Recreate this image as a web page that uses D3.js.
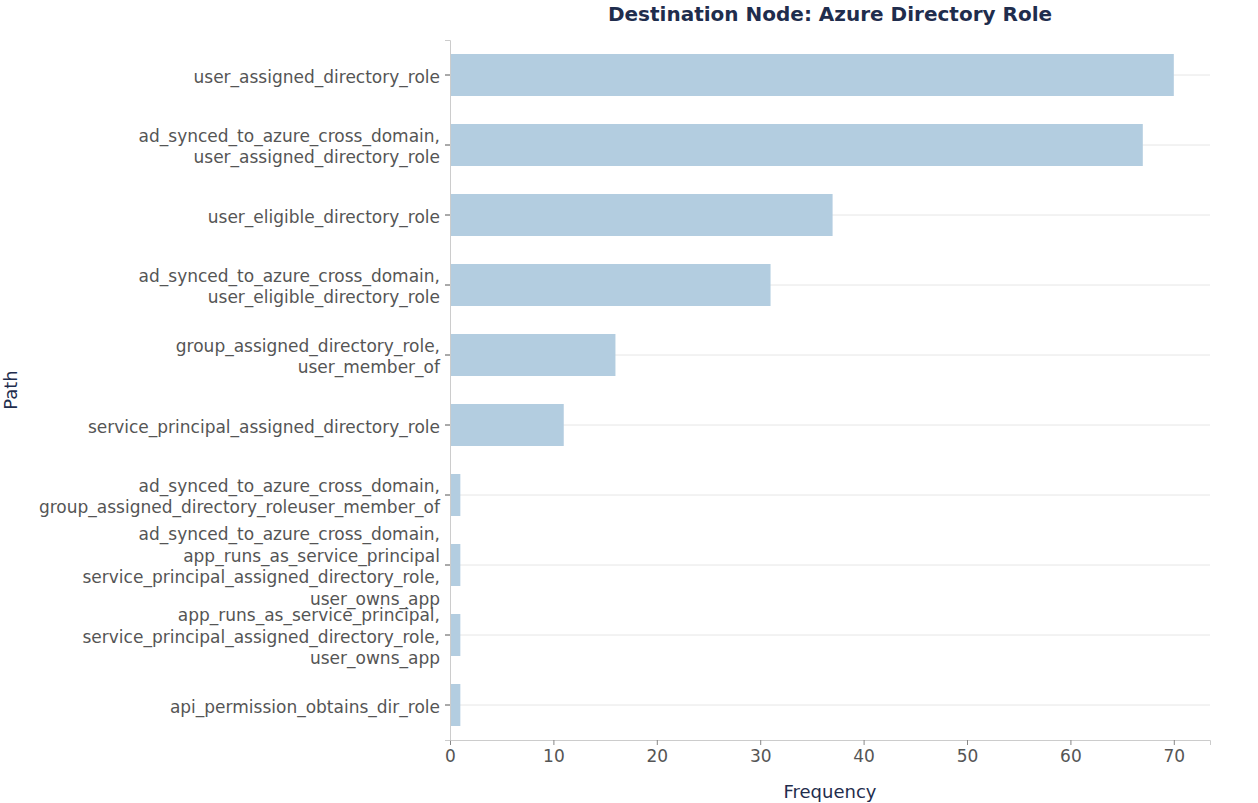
<!DOCTYPE html>
<html>
<head>
<meta charset="utf-8">
<script src="https://cdn.jsdelivr.net/npm/d3@7"></script>
<style>
  body { margin: 0; background: #fff; }
  svg { display: block; }
  svg text { font-family: "DejaVu Sans", sans-serif; }
</style>
</head>
<body>
<div class="chartBox"></div>
<script>
// path labels, one entry per bar, lines split by \n
var paths = [
    "user_assigned_directory_role",
    "ad_synced_to_azure_cross_domain,\nuser_assigned_directory_role",
    "user_eligible_directory_role",
    "ad_synced_to_azure_cross_domain,\nuser_eligible_directory_role",
    "group_assigned_directory_role,\nuser_member_of",
    "service_principal_assigned_directory_role",
    "ad_synced_to_azure_cross_domain,\ngroup_assigned_directory_roleuser_member_of",
    "ad_synced_to_azure_cross_domain,\napp_runs_as_service_principal\nservice_principal_assigned_directory_role,\nuser_owns_app",
    "app_runs_as_service_principal,\nservice_principal_assigned_directory_role,\nuser_owns_app",
    "api_permission_obtains_dir_role"
];
var frequency = [70, 67, 37, 31, 16, 11, 1, 1, 1, 1];
var xTicks = [0, 10, 20, 30, 40, 50, 60, 70];

var width = 1258, height = 803;
var margin = { top: 40, right: 48, bottom: 63, left: 450 };

var svg = d3.select('.chartBox')
    .append('svg')
    .attr('width', width)
    .attr('height', height);

var x = d3.scaleLinear()
    .domain([0, d3.max(frequency) * 1.05])
    .range([margin.left, width - margin.right]);

var y = d3.scaleBand()
    .domain(d3.range(paths.length))
    .range([margin.top, height - margin.bottom])
    .paddingInner(0.4)
    .paddingOuter(0.2);

// horizontal grid lines at each category
svg.append('g')
    .selectAll('line')
    .data(paths)
    .enter().append('line')
    .attr('x1', x.range()[0])
    .attr('x2', x.range()[1])
    .attr('y1', (d, i) => y(i) + y.bandwidth() / 2)
    .attr('y2', (d, i) => y(i) + y.bandwidth() / 2)
    .attr('stroke', '#e6e6e6')
    .attr('stroke-width', 1);

svg.append('g')
    .selectAll('rect')
    .data(frequency)
    .enter().append('rect')
    .attr('x', x(0))
    .attr('y', (d, i) => y(i))
    .attr('width', d => x(d) - x(0))
    .attr('height', y.bandwidth())
    .attr('fill', '#b3cde0');

// x axis
var xAxis = svg.append('g')
    .attr('transform', 'translate(0,' + (height - margin.bottom) + ')')
    .call(d3.axisBottom(x).tickValues(xTicks).tickSize(5).tickPadding(5))
    .attr('font-family', null)
    .attr('font-size', null);
xAxis.select('.domain').attr('stroke', '#cccccc');
xAxis.selectAll('.tick line').attr('stroke', '#888888');
xAxis.selectAll('.tick text')
    .attr('fill', '#555555')
    .style('font-size', '17px');

// y axis
var yAxis = svg.append('g')
    .attr('transform', 'translate(' + margin.left + ',0)')
    .call(d3.axisLeft(y).tickSize(5).tickPadding(5).tickFormat(''))
    .attr('font-family', null)
    .attr('font-size', null);
yAxis.select('.domain').attr('stroke', '#cccccc');
yAxis.selectAll('.tick line').attr('stroke', '#555555');

var lineH = 21.6;
yAxis.selectAll('.tick').each(function (d) {
    var lines = paths[d].split('\n');
    var t = d3.select(this).select('text')
        .attr('fill', '#555555')
        .style('font-size', '17px')
        .attr('dy', null);
    lines.forEach(function (s, j) {
        t.append('tspan')
            .attr('x', -10)
            .attr('y', (j - (lines.length - 1) / 2) * lineH)
            .attr('dy', '0.45em')
            .text(s);
    });
});

// titles
svg.append('text')
    .attr('x', (x.range()[0] + x.range()[1]) / 2)
    .attr('y', 21)
    .attr('text-anchor', 'middle')
    .attr('fill', '#1f2d4d')
    .style('font-size', '20px')
    .style('font-weight', 'bold')
    .text('Destination Node: Azure Directory Role');

svg.append('text')
    .attr('x', (x.range()[0] + x.range()[1]) / 2)
    .attr('y', 798)
    .attr('text-anchor', 'middle')
    .attr('fill', '#1f2d4d')
    .style('font-size', '18px')
    .text('Frequency');

svg.append('text')
    .attr('transform', 'translate(17,' + (margin.top + height - margin.bottom) / 2 + ') rotate(-90)')
    .attr('text-anchor', 'middle')
    .attr('fill', '#1f2d4d')
    .style('font-size', '18px')
    .text('Path');
</script>
</body>
</html>
